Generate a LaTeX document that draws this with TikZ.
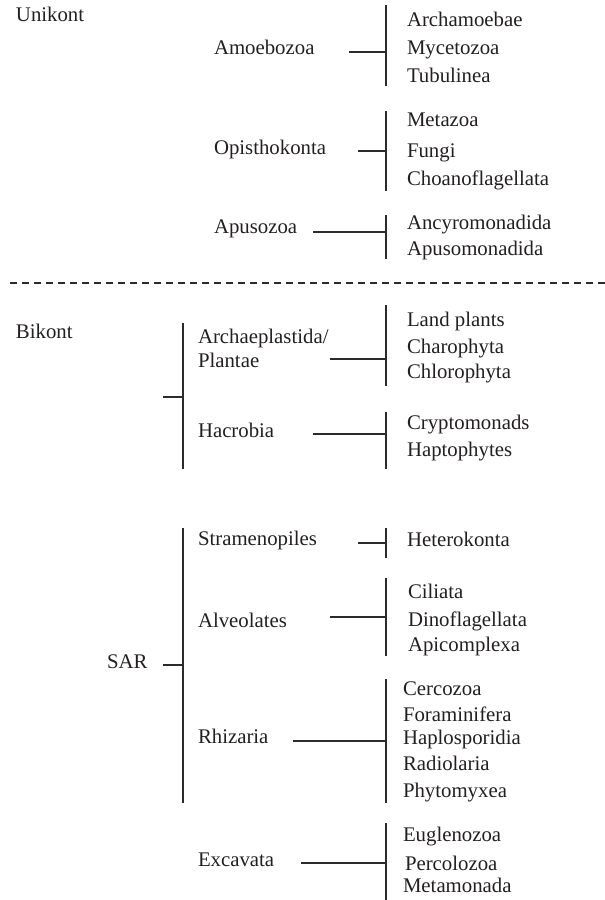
\documentclass[tikz,border=0pt]{standalone}
\usepackage{fontspec}
\setmainfont{Liberation Serif}
\begin{document}
\begin{tikzpicture}[x=1pt,y=-1pt,
  lbl/.style={anchor=west,inner sep=0pt,outer sep=0pt,text=txtc,
    font=\fontsize{20.8}{24}\selectfont,text height=0.66em,text depth=0.04em},
  conn/.style={draw=linec,line width=1.4pt},
  sep/.style={draw=linec,line width=1.3pt,dash pattern=on 7pt off 5pt}]
\definecolor{txtc}{HTML}{231F20}
\definecolor{linec}{HTML}{2B2B2B}
\useasboundingbox (0,0) rectangle (605,900);

% ---------- Unikont ----------
\node[lbl] (unikont) at (16,18) {Unikont};

\node[lbl] (amoebozoa) at (214,51) {Amoebozoa};
\node[lbl] (archamoebae) at (407,23) {Archamoebae};
\node[lbl] (mycetozoa) at (407,51) {Mycetozoa};
\node[lbl] (tubulinea) at (407,79) {Tubulinea};
\coordinate (amoS) at (349,52);
\coordinate (amoJ) at (386,52);
\coordinate (amoT) at (386,5);
\coordinate (amoB) at (386,86);
\draw[conn] (amoS) -- (amoJ);
\draw[conn] (amoT) -- (amoB);

\node[lbl] (opisthokonta) at (214,151) {Opisthokonta};
\node[lbl] (metazoa) at (407,123) {Metazoa};
\node[lbl] (fungi) at (407,154) {Fungi};
\node[lbl] (choano) at (407,182) {Choanoflagellata};
\coordinate (opiS) at (358,151);
\coordinate (opiJ) at (386,151);
\coordinate (opiT) at (386,111);
\coordinate (opiB) at (386,191);
\draw[conn] (opiS) -- (opiJ);
\draw[conn] (opiT) -- (opiB);

\node[lbl] (apusozoa) at (214,230) {Apusozoa};
\node[lbl] (ancyro) at (407,226) {Ancyromonadida};
\node[lbl] (apuso) at (407,252) {Apusomonadida};
\coordinate (apuS) at (313,232);
\coordinate (apuJ) at (386,232);
\coordinate (apuT) at (386,215);
\coordinate (apuB) at (386,259);
\draw[conn] (apuS) -- (apuJ);
\draw[conn] (apuT) -- (apuB);

% ---------- separator ----------
\coordinate (sepL) at (10,283);
\coordinate (sepR) at (605,283);
\draw[sep] (sepL) -- (sepR);

% ---------- Bikont ----------
\node[lbl] (bikont) at (16,335) {Bikont};
\coordinate (bikS) at (163,397);
\coordinate (bikJ) at (183,397);
\coordinate (bikT) at (183,323);
\coordinate (bikB) at (183,469);
\draw[conn] (bikS) -- (bikJ);
\draw[conn] (bikT) -- (bikB);

\node[lbl] (archaepl) at (198,340) {Archaeplastida/};
\node[lbl] (plantae) at (198,364) {Plantae};
\node[lbl] (landpl) at (407,323) {Land plants};
\node[lbl] (charo) at (407,350) {Charophyta};
\node[lbl] (chloro) at (407,375) {Chlorophyta};
\coordinate (plaS) at (330,359);
\coordinate (plaJ) at (386,359);
\coordinate (plaT) at (386,305);
\coordinate (plaB) at (386,386);
\draw[conn] (plaS) -- (plaJ);
\draw[conn] (plaT) -- (plaB);

\node[lbl] (hacrobia) at (198,434) {Hacrobia};
\node[lbl] (crypto) at (407,426) {Cryptomonads};
\node[lbl] (hapto) at (407,453) {Haptophytes};
\coordinate (hacS) at (313,434);
\coordinate (hacJ) at (386,434);
\coordinate (hacT) at (386,412);
\coordinate (hacB) at (386,469);
\draw[conn] (hacS) -- (hacJ);
\draw[conn] (hacT) -- (hacB);

% ---------- SAR ----------
\node[lbl] (sar) at (107,665) {SAR};
\coordinate (sarS) at (163,665);
\coordinate (sarJ) at (183,665);
\coordinate (sarT) at (183,528);
\coordinate (sarB) at (183,803);
\draw[conn] (sarS) -- (sarJ);
\draw[conn] (sarT) -- (sarB);

\node[lbl] (strameno) at (198,542) {Stramenopiles};
\node[lbl] (hetero) at (407,543) {Heterokonta};
\coordinate (strS) at (358,543);
\coordinate (strJ) at (386,543);
\coordinate (strT) at (386,528);
\coordinate (strB) at (386,558);
\draw[conn] (strS) -- (strJ);
\draw[conn] (strT) -- (strB);

\node[lbl] (alveol) at (198,624) {Alveolates};
\node[lbl] (ciliata) at (408,595) {Ciliata};
\node[lbl] (dino) at (408,623) {Dinoflagellata};
\node[lbl] (apicom) at (408,648) {Apicomplexa};
\coordinate (alvS) at (330,617);
\coordinate (alvJ) at (386,617);
\coordinate (alvT) at (386,578);
\coordinate (alvB) at (386,656);
\draw[conn] (alvS) -- (alvJ);
\draw[conn] (alvT) -- (alvB);

\node[lbl] (rhizaria) at (198,740) {Rhizaria};
\node[lbl] (cerco) at (403,692) {Cercozoa};
\node[lbl] (forami) at (403,718) {Foraminifera};
\node[lbl] (haplo) at (403,741) {Haplosporidia};
\node[lbl] (radio) at (403,767) {Radiolaria};
\node[lbl] (phyto) at (403,794) {Phytomyxea};
\coordinate (rhiS) at (293,741);
\coordinate (rhiJ) at (386,741);
\coordinate (rhiT) at (386,679);
\coordinate (rhiB) at (386,803);
\draw[conn] (rhiS) -- (rhiJ);
\draw[conn] (rhiT) -- (rhiB);

% ---------- Excavata ----------
\node[lbl] (excavata) at (198,863) {Excavata};
\node[lbl] (eugleno) at (403,838) {Euglenozoa};
\node[lbl] (percolo) at (405,867) {Percolozoa};
\node[lbl] (metamon) at (403,889) {Metamonada};
\coordinate (excS) at (301,863);
\coordinate (excJ) at (386,863);
\coordinate (excT) at (386,823);
\coordinate (excB) at (386,900);
\draw[conn] (excS) -- (excJ);
\draw[conn] (excT) -- (excB);
\end{tikzpicture}
\end{document}
